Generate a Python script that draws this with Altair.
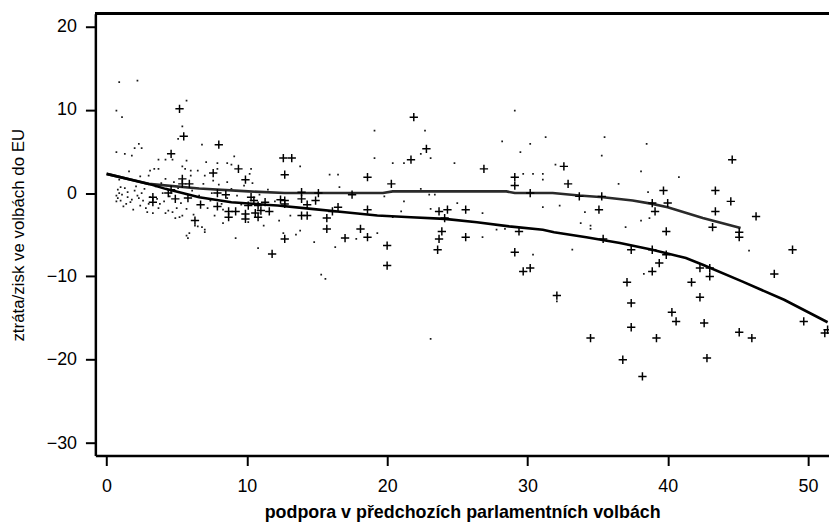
import altair as alt
import pandas as pd

# "+" markers
plus_x = [3.3, 3.3, 4.4, 4.6, 4.6, 4.9, 5.2, 5.5, 5.4, 5.4, 5.9, 5.8, 6.3, 6.7, 7.6, 8.0, 7.9, 8.5, 7.9, 8.7,
          9.2, 8.7, 9.4, 9.9, 9.9, 9.9, 10.3, 10.5, 10.8, 10.6, 10.8, 11.3, 11.6, 11.0, 10.1, 11.8, 12.4, 12.6, 13.2, 12.7,
          12.7, 12.7, 12.7, 13.9, 13.9, 13.9, 14.3, 14.3, 14.9, 15.1, 15.7, 15.7, 16.1, 16.5, 17.5, 17.0, 18.1, 18.6, 18.6, 18.6,
          20.0, 20.0, 20.3, 21.7, 21.9, 22.8, 23.7, 24.3, 24.1, 23.9, 23.7, 23.6, 25.6, 25.6, 26.9, 29.1, 29.1, 29.1, 29.4, 29.7,
          30.2, 30.2, 32.1, 32.6, 32.9, 33.7, 35.3, 35.1, 35.4, 34.5, 37.4, 38.9, 39.9, 38.9, 39.1, 40.0, 39.7, 39.9, 39.4, 38.9,
          37.1, 37.4, 37.4, 39.2, 36.8, 38.2, 40.3, 40.6, 41.7, 42.3, 43.0, 43.0, 42.3, 42.6, 42.8, 43.2, 43.4, 43.4, 44.5, 44.6,
          45.1, 45.1, 45.1, 46.0, 46.3, 47.6, 48.9, 49.7, 51.2, 51.4]
plus_y = [-0.5, -1.1, 0.0, 0.4, 4.7, -0.7, 10.1, 6.8, 1.7, 1.1, 1.1, -0.6, -3.3, -1.4, 2.4, 5.8, 0.0, -0.2, -1.6, -2.2,
          -2.2, -2.9, 2.9, 1.6, -2.5, -3.1, -0.5, -0.9, -1.5, -2.4, -2.9, -1.1, -2.2, -2.1, -1.5, -7.3, -0.8, 4.2, 4.2, 2.2,
          -0.9, -1.3, -5.5, 0.1, -0.7, -2.7, -2.7, -1.4, -0.9, 0.0, -3.0, -4.3, -2.2, -1.7, -0.2, -5.4, -4.3, 1.9, -2.0, -5.3,
          -6.3, -8.7, 1.1, 4.0, 9.1, 5.3, -2.2, -2.0, -3.0, -4.6, -5.5, -6.8, -2.0, -5.3, 2.9, 1.9, 0.9, -7.1, -4.6, -9.4,
          -9.0, 0.0, -12.3, 3.2, 1.1, -0.4, -0.4, -2.0, -5.5, -17.4, -6.8, -6.8, -7.4, -1.2, -2.2, -1.2, 0.3, -4.6, -8.4, -9.4,
          -10.7, -13.2, -16.1, -17.4, -20.0, -22.0, -14.3, -15.4, -10.7, -9.0, -9.0, -10.0, -12.5, -15.6, -19.8, -4.1, -2.2, 0.3, -1.0, 4.0,
          -4.7, -5.3, -16.7, -17.4, -2.8, -9.7, -6.8, -15.4, -16.8, -16.4]

# tiny dots
dot_x = [0.9, 2.2, 0.7, 1.1, 5.7, 5.4, 5.1, 0.7, 1.3, 1.8, 2.0, 2.3, 2.5, 6.8, 9.1, 3.7, 4.2, 4.7, 3.1, 3.4,
         3.7, 5.7, 5.4, 5.6, 6.0, 6.5, 7.1, 7.9, 8.6, 8.9, 8.6, 7.6, 6.0, 4.2, 3.0, 7.0, 7.9, 10.2, 10.3,
         5.8, 5.9, 7.0, 9.2, 10.8, 6.5, 5.7, 7.0, 6.3, 6.8, 8.3,
         1.0, 0.9, 1.1, 0.8, 1.0, 1.5, 1.5, 1.7, 1.4, 2.0, 2.2, 2.3, 2.4, 2.5, 2.6, 2.8, 2.9, 3.0, 3.3, 3.7,
         3.8, 4.0, 4.2, 4.4, 4.7, 5.0, 5.2, 4.9, 5.4, 7.4, 7.5, 8.2, 8.6,
         0.7, 0.7, 0.8, 1.2, 1.3, 1.8, 1.9, 2.1, 2.7, 3.1, 3.5, 3.6, 3.9, 4.1, 4.5, 4.8, 5.1, 5.3, 5.7, 6.1,
         6.2, 6.6, 6.9, 7.2, 7.7, 8.0, 8.3, 8.9, 9.3, 9.6, 9.8, 10.1, 10.4, 10.9, 11.2, 11.5, 12.0, 12.3, 1.6, 2.4, 0.9,
         19.1, 19.1, 22.7, 23.1, 22.4, 20.4, 21.2, 24.8, 29.1, 28.2, 29.5, 30.2, 31.3, 29.7, 30.4, 31.1, 31.1, 32.0, 13.8, 15.9,
         16.5, 16.6, 19.8, 21.2, 21.0, 22.4, 23.0, 23.4, 25.0, 23.1, 26.8, 31.1, 27.8, 28.4, 26.8, 30.4, 19.3, 17.8, 20.4, 16.3,
         14.8, 13.5, 13.8, 13.1, 12.6, 15.3, 15.6, 23.1, 35.5, 35.3, 38.5, 38.1, 40.8, 36.5, 38.6, 32.3, 34.1, 33.8, 34.5, 34.5,
         37.0, 38.1, 38.7, 33.2, 45.8, 38.3, 32.1]
dot_y = [13.3, 13.5, 9.9, 9.1, 11.1, 8.0, 6.5, 4.9, 4.7, 4.5, 5.4, 5.9, 5.4, 5.8, 4.4, 4.0, 4.0, 4.0, 2.7, 2.9,
         2.9, 3.9, 3.2, 2.9, 2.7, 2.7, 3.7, 3.6, 3.6, 3.4, 1.3, 1.5, 2.1, 1.7, 2.1, 2.1, 2.9, 2.3, 2.9,
         -5.4, -4.8, -4.4, -5.4, -6.6, -4.0, -5.1, -4.7, -3.9, -4.1, -3.6,
         0.7, 0.0, -0.2, -0.6, -0.9, 0.1, -0.5, -1.1, -1.3, 0.3, -0.3, -0.6, -1.5, 0.0, -0.9, -1.8, -2.3, -1.3, -2.4, -1.8,
         -1.3, 0.0, -2.4, -2.1, -2.3, -1.8, -2.9, -3.0, -2.7, -0.9, 0.0, -1.3, -0.6,
         -0.3, -1.0, 0.4, -1.6, 0.6, -0.8, -2.0, 0.8, 0.5, -0.5, 0.8, -0.7, 1.2, -1.0, -0.4, 1.3, 0.6, -1.2, -1.9, 0.3,
         -2.6, -0.3, 1.1, -1.8, -2.7, 1.0, -2.0, 0.5, -0.3, -1.4, 0.9, -3.5, 1.2, -0.2, -3.9, 0.4, -1.0, -3.3, 2.6, 2.0, 1.6,
         7.5, 4.2, 7.5, 4.2, 4.7, 3.6, 3.6, 3.6, 9.9, 6.2, 4.9, 5.9, 6.7, 2.3, 2.3, 2.3, 1.6, 3.4, 3.2, 2.2,
         2.2, 0.7, -0.4, -1.0, -2.2, 0.5, -0.2, -0.2, -1.2, -1.9, -2.4, -1.7, -4.4, -4.3, -5.3, -7.4, -4.8, -5.5, -2.9, -6.5,
         -5.9, -5.0, -4.5, -2.7, -4.8, -9.8, -10.3, -17.5, 6.7, 4.5, 5.9, 2.6, 1.9, 1.1, 0.1, -1.5, -2.3, -3.6, -3.9, -4.3,
         -4.1, -3.3, -3.0, -6.8, -6.9, -9.7, -13.0]

# smoothed curves
upper_x = [0.0, 2.0, 3.0, 6.6, 10.1, 12.7, 19.7, 20.4, 28.5, 29.1, 31.8, 33.7, 35.4, 37.5, 38.9, 40.0, 42.5, 45.2]
upper_y = [2.3, 1.5, 1.1, 0.55, 0.2, 0.0, 0.0, 0.2, 0.2, 0.0, 0.0, -0.3, -0.5, -0.9, -1.3, -1.7, -3.0, -4.2]
lower_x = [0.0, 3.0, 4.2, 6.6, 8.9, 11.3, 12.2, 14.6, 17.0, 19.3, 21.7, 24.1, 26.4, 28.7, 31.1, 31.9, 34.2, 36.6,
           38.9, 41.3, 42.5, 45.3, 48.3, 51.4]
lower_y = [2.3, 1.1, 0.5, -0.5, -1.1, -1.4, -1.5, -1.9, -2.3, -2.7, -2.9, -3.1, -3.5, -4.0, -4.4, -4.7, -5.3, -6.0,
           -6.8, -7.8, -8.6, -10.6, -12.8, -15.5]

W, H = 739, 445
FONT = "Liberation Sans"

dots = pd.DataFrame({"x": dot_x, "y": dot_y})
plus = pd.DataFrame({"x": plus_x, "y": plus_y})
upper = pd.DataFrame({"x": upper_x, "y": upper_y})
lower = pd.DataFrame({"x": lower_x, "y": lower_y})

xs = alt.Scale(domain=[-0.8, 51.5], nice=False, zero=False)
ys = alt.Scale(domain=[-31.5, 21.5], nice=False, zero=False)
X = alt.X("x:Q", scale=xs, axis=alt.Axis(values=[0, 10, 20, 30, 40, 50], title="podpora v předchozích parlamentních volbách",
                                         titleFontWeight="bold", titleFontSize=18, titlePadding=8, labelPadding=12))
Y = alt.Y("y:Q", scale=ys, axis=alt.Axis(values=[-30, -20, -10, 0, 10, 20], title="ztráta/zisk ve volbách do EU",
                                         titleFontWeight="normal", titleFontSize=17, titlePadding=19, labelPadding=9))

dot_layer = alt.Chart(dots).mark_square(size=3, color="black", opacity=0.9, clip=True).encode(x=X, y=Y)
plus_layer = alt.Chart(plus).mark_point(shape="M-1,0L1,0M0,-1L0,1", filled=False, size=70, strokeWidth=1.5,
                                        color="black", opacity=1, clip=True).encode(x=X, y=Y)
upper_layer = alt.Chart(upper).mark_line(color="#2a2a2a", strokeWidth=2.6, clip=True).encode(x=X, y=Y)
lower_layer = alt.Chart(lower).mark_line(color="black", strokeWidth=2.6, clip=True).encode(x=X, y=Y)
top_frame = alt.Chart(dots).mark_rule(color="black", strokeWidth=2.5).encode(
    x=alt.value(0), x2=alt.value(W), y=alt.value(0))

chart = alt.layer(dot_layer, upper_layer, lower_layer, plus_layer, top_frame).properties(
    width=W, height=H,
    autosize=alt.AutoSizeParams(type="none"),
    padding={"left": 88, "top": 4, "right": 0, "bottom": 65},
    background="white",
).configure_view(stroke=None).configure_axis(
    grid=False, domainColor="black", domainWidth=2.5, tickColor="black", tickWidth=2, tickSize=10,
    labelFont=FONT, labelFontSize=18, labelColor="black", titleFont=FONT, titleColor="black",
)

chart.save("out.html", embed_options={"renderer": "svg", "actions": False})
